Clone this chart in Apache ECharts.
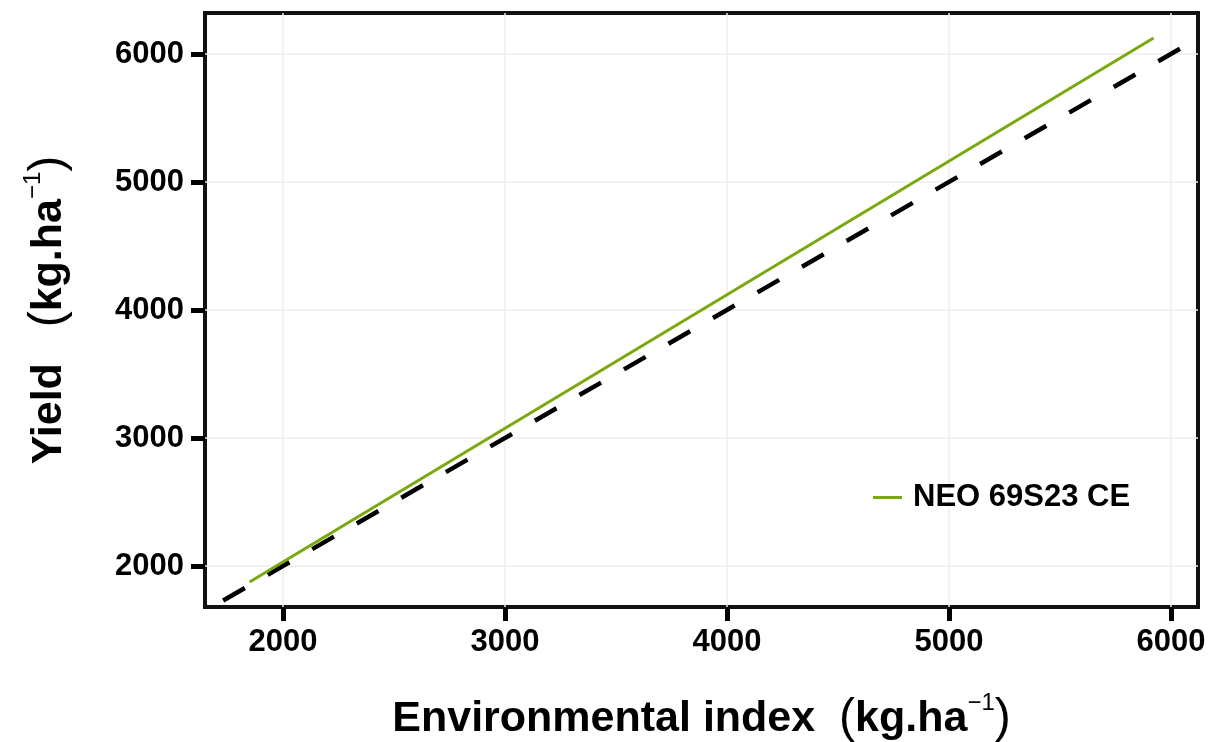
<!DOCTYPE html>
<html>
<head>
<meta charset="utf-8">
<script src="https://cdn.jsdelivr.net/npm/echarts@6/dist/echarts.min.js"></script>
<style>
  html, body { margin: 0; padding: 0; background: #fff; }
  #chart { width: 1210px; height: 742px; }
</style>
</head>
<body>
<div id="chart"></div>
<script>
// ---- data ----
const seriesName = 'NEO 69S23 CE';
const envIndex = [1850, 5922];          // x of fitted line for NEO 69S23 CE
const yieldNEO = [1875, 6125];          // y of fitted line
const refX = [1649, 6122];              // 1:1 reference line (y = x)
const refY = [1649, 6122];
const xTicks = [2000, 3000, 4000, 5000, 6000];
const yTicks = [2000, 3000, 4000, 5000, 6000];
const xRange = [1649, 6122];
const yRange = [1680, 6320];

const green = '#7BA80F';
const font = 'Liberation Sans, Arial, Helvetica, sans-serif';

const chart = echarts.init(document.getElementById('chart'), null, { renderer: 'canvas' });

const axisCommon = {
  type: 'value',
  axisLine: { show: false },
  axisTick: { show: true, length: 14, lineStyle: { color: '#000', width: 5 } },
  splitLine: { show: true, lineStyle: { color: '#eeeeee', width: 1.5 } },
  axisLabel: { color: '#000', fontSize: 31, fontWeight: 'bold', fontFamily: font, formatter: v => String(v) }
};

const nameRich = {
  a: { fontSize: 43, fontWeight: 'bold', fontFamily: font, color: '#000', lineHeight: 56 },
  p: { fontSize: 48, fontWeight: 'normal', fontFamily: font, color: '#000', lineHeight: 56 },
  s: { fontSize: 24, fontWeight: 'normal', fontFamily: font, color: '#000', verticalAlign: 'top', lineHeight: 56 }
};

chart.setOption({
  animation: false,
  backgroundColor: '#fff',
  grid: {
    left: 205, right: 12, top: 13, bottom: 135,
    outerBoundsMode: 'none', containLabel: false,
    show: true, borderColor: '#111', borderWidth: 4, backgroundColor: 'transparent'
  },
  legend: {
    data: [seriesName],
    left: 868, top: 477,
    icon: 'rect', itemWidth: 29, itemHeight: 3,
    textStyle: { fontSize: 31, fontWeight: 'bold', fontFamily: font, color: '#000', padding: [0, 0, 0, 6] }
  },
  xAxis: Object.assign({}, axisCommon, {
    min: xRange[0], max: xRange[1],
    axisTick: Object.assign({}, axisCommon.axisTick, { customValues: xTicks }),
    axisLabel: Object.assign({}, axisCommon.axisLabel, { customValues: xTicks, margin: 20 }),
    name: '{a|Environmental index  }{p|(}{a|kg.ha}{s|−1}{p|)}',
    nameLocation: 'middle', nameGap: 84,
    nameTextStyle: { rich: nameRich }
  }),
  yAxis: Object.assign({}, axisCommon, {
    min: yRange[0], max: yRange[1],
    axisTick: Object.assign({}, axisCommon.axisTick, { customValues: yTicks }),
    axisLabel: Object.assign({}, axisCommon.axisLabel, { customValues: yTicks, margin: 21 }),
    name: '{a|Yield   }{p|(}{a|kg.ha}{s|−1}{p|)}',
    nameLocation: 'middle', nameGap: 128, nameRotate: 90,
    nameTextStyle: { rich: nameRich }
  }),
  series: [
    {
      name: 'ref',
      type: 'line',
      data: refX.map((x, i) => [x, refY[i]]),
      symbol: 'none',
      clip: true,
      lineStyle: { color: '#000', width: 4.5, type: [25, 26.4], dashOffset: 30.4 },
      silent: true,
      z: 2
    },
    {
      name: seriesName,
      type: 'line',
      data: envIndex.map((x, i) => [x, yieldNEO[i]]),
      symbol: 'none',
      lineStyle: { color: green, width: 3 },
      itemStyle: { color: green },
      z: 3
    }
  ]
});
</script>
</body>
</html>
